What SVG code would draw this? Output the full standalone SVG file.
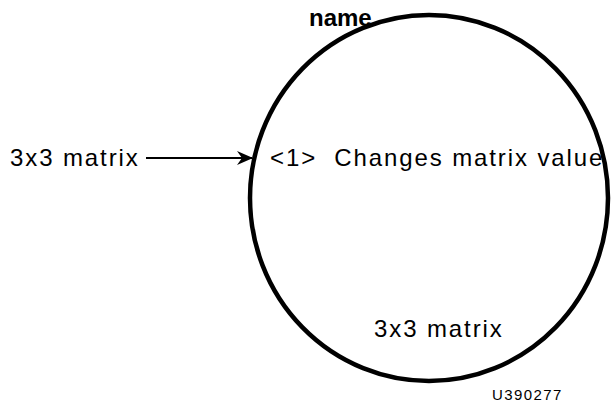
<svg xmlns="http://www.w3.org/2000/svg" width="611" height="404" viewBox="0 0 611 404">
<style>
.t{font-family:"Liberation Sans",Arial,sans-serif;font-size:24px;fill:#000;letter-spacing:1.9px}
.b{font-family:"Liberation Sans",Arial,sans-serif;font-size:24px;font-weight:bold;fill:#000}
.s{font-family:"Liberation Sans",Arial,sans-serif;font-size:15px;fill:#000;letter-spacing:1.4px}
.edge{stroke:#000;stroke-width:2;fill:none}
</style>
<defs>
<marker id="ah" viewBox="0 0 16 14" refX="15" refY="7" markerWidth="16" markerHeight="14" markerUnits="userSpaceOnUse" orient="auto">
<path d="M0,0 L16,7 L0,14 L5,7 Z" fill="#000"/>
</marker>
</defs>
<rect width="611" height="404" fill="#fff"/>
<g id="process">
<ellipse cx="429" cy="198" rx="179" ry="183" fill="none" stroke="#000" stroke-width="4.5"/>
<text class="b" x="309" y="26">name</text>
<text class="t" x="270" y="166" xml:space="preserve">&lt;1&gt;  Changes matrix value</text>
<text class="t" x="374" y="337">3x3 matrix</text>
</g>
<g id="input">
<text class="t" x="10" y="166">3x3 matrix</text>
</g>
<g id="connectors">
<line class="edge" x1="146" y1="158" x2="252" y2="158" marker-end="url(#ah)"/>
</g>
<text class="s" x="492" y="400">U390277</text>
</svg>
